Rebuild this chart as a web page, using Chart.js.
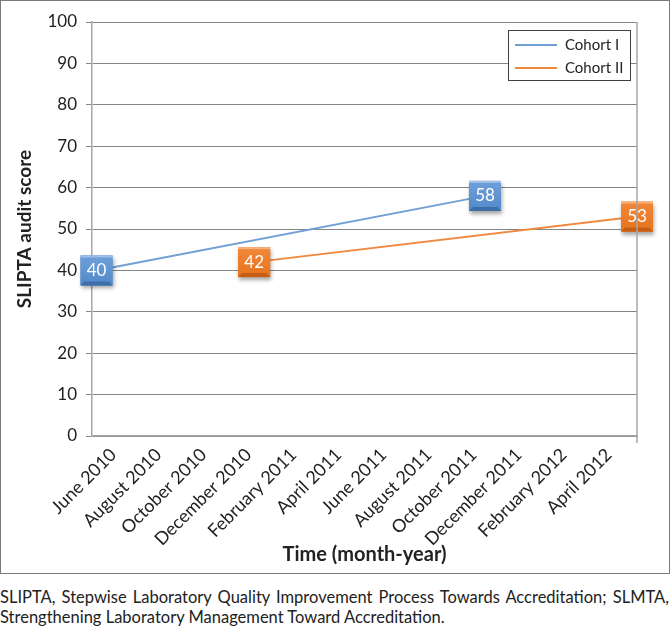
<!DOCTYPE html>
<html>
<head>
<meta charset="utf-8">
<title>SLIPTA audit score</title>
<script src="https://cdn.jsdelivr.net/npm/chart.js@4.4.0/dist/chart.umd.min.js"></script>
<style>
  body { margin: 0; background: #fff; font-family: Lato, sans-serif; }
  #frame { position: absolute; left: 0; top: 0; width: 668px; height: 572px; border: 1px solid #7a7a7a; }
  #caption { position: absolute; left: 0; top: 587px; width: 669px; font-size: 16.5px; line-height: 20px; color: #222;
             white-space: nowrap; }
  #caption .first { display: block; text-align: justify; text-align-last: justify; }
</style>
</head>
<body>
<div id="frame"><canvas id="chart" width="668" height="572"></canvas></div>
<div id="caption"><span class="first">SLIPTA, Stepwise Laboratory Quality Improvement Process Towards Accreditation; SLMTA,</span>Strengthening Laboratory Management Toward Accreditation.</div>
<script>
// months counted from June 2010 (= 0)
const tickMonths = [0, 2, 4, 6, 8, 10, 12, 14, 16, 18, 20, 22];
const tickLabels = ['June 2010', 'August 2010', 'October 2010', 'December 2010', 'February 2011', 'April 2011',
                    'June 2011', 'August 2011', 'October 2011', 'December 2011', 'February 2012', 'April 2012'];

const cohort1Months = [-0.75, 16.5];
const cohort1Scores = [40, 58];
const cohort2Months = [6.25, 23.25];
const cohort2Scores = [42, 53];

const seriesNames = ['Cohort I', 'Cohort II'];

const toPoints = (xs, ys) => xs.map((x, i) => ({x: x, y: ys[i]}));

// beveled value boxes like the excel data labels
const boxLabels = {
    id: 'boxLabels',
    afterDatasetsDraw(chart) {
        const ctx = chart.ctx;
        chart.data.datasets.forEach((ds, i) => {
            const meta = chart.getDatasetMeta(i);
            meta.data.forEach((pt, j) => {
                const w = 32, h = 30;
                const x = pt.x - w / 2, y = pt.y - h / 2;
                ctx.save();
                ctx.shadowColor = 'rgba(0,0,0,0.35)';
                ctx.shadowBlur = 4;
                ctx.shadowOffsetX = 1;
                ctx.shadowOffsetY = 3;
                ctx.fillStyle = ds.boxColor;
                ctx.fillRect(x, y, w, h);
                ctx.restore();

                ctx.save();
                const g = ctx.createLinearGradient(0, y, 0, y + h);
                g.addColorStop(0, ds.boxLight);
                g.addColorStop(1, ds.boxColor);
                ctx.fillStyle = g;
                ctx.fillRect(x, y, w, h);
                // bevel edges
                ctx.fillStyle = 'rgba(255,255,255,0.35)';
                ctx.fillRect(x, y, w, 2);
                ctx.fillStyle = ds.boxDark;
                ctx.beginPath();
                ctx.moveTo(x, y + h);
                ctx.lineTo(x + 4, y + h - 4);
                ctx.lineTo(x + w - 4, y + h - 4);
                ctx.lineTo(x + w, y + h);
                ctx.closePath();
                ctx.fill();

                ctx.fillStyle = '#fff';
                ctx.font = '17px Lato, sans-serif';
                ctx.textAlign = 'center';
                ctx.textBaseline = 'middle';
                ctx.fillText(String(ds.data[j].y), pt.x, pt.y);
                ctx.restore();
            });
        });
    }
};

// right edge of plot and the legend box
const frameAndLegend = {
    id: 'frameAndLegend',
    afterDraw(chart) {
        const ctx = chart.ctx;
        const a = chart.chartArea;
        ctx.save();
        ctx.strokeStyle = '#a6a6a6';
        ctx.lineWidth = 1.5;
        ctx.beginPath();
        ctx.moveTo(a.right, a.top);
        ctx.lineTo(a.right, a.bottom + 7);
        ctx.stroke();

        const lx = a.right - 129, ly = a.top + 8, lw = 122, lh = 50;
        ctx.fillStyle = '#fff';
        ctx.fillRect(lx, ly, lw, lh);
        ctx.strokeStyle = '#404040';
        ctx.lineWidth = 1;
        ctx.strokeRect(lx + 0.5, ly + 0.5, lw, lh);
        chart.data.datasets.forEach((ds, i) => {
            const yy = ly + 15 + i * 23;
            ctx.strokeStyle = ds.borderColor;
            ctx.lineWidth = 2;
            ctx.beginPath();
            ctx.moveTo(lx + 7, yy);
            ctx.lineTo(lx + 49, yy);
            ctx.stroke();
            ctx.fillStyle = '#222';
            ctx.font = '15px Lato, sans-serif';
            ctx.textAlign = 'left';
            ctx.textBaseline = 'middle';
            ctx.fillText(ds.label, lx + 57, yy);
        });
        ctx.restore();
    }
};

new Chart(document.getElementById('chart'), {
    type: 'line',
    data: {
        datasets: [{
            label: seriesNames[0],
            data: toPoints(cohort1Months, cohort1Scores),
            borderColor: '#71a0d4',
            borderWidth: 2,
            pointRadius: 0,
            boxColor: '#5189c9',
            boxLight: '#6fa0db',
            boxDark: '#3c6ea8'
        }, {
            label: seriesNames[1],
            data: toPoints(cohort2Months, cohort2Scores),
            borderColor: '#f0883e',
            borderWidth: 2,
            pointRadius: 0,
            boxColor: '#e6731f',
            boxLight: '#f2883a',
            boxDark: '#c55e14'
        }]
    },
    options: {
        responsive: false,
        animation: false,
        layout: {padding: {left: 0, right: 32, top: 21, bottom: 0}},
        plugins: {legend: {display: false}, tooltip: {enabled: false}},
        scales: {
            x: {
                type: 'linear',
                min: -0.95,
                max: 23.25,
                afterBuildTicks: (scale) => { scale.ticks = tickMonths.map(v => ({value: v})); },
                afterFit: (scale) => { scale.height = 137; },
                grid: {display: false},
                border: {display: true, color: '#a6a6a6', width: 1.5},
                ticks: {
                    minRotation: 45,
                    maxRotation: 45,
                    autoSkip: false,
                    padding: 0,
                    color: '#222',
                    font: {family: 'Lato', size: 18},
                    callback: (value) => tickLabels[tickMonths.indexOf(value)]
                },
                title: {
                    display: true,
                    text: 'Time (month-year)',
                    color: '#222',
                    font: {family: 'Lato', size: 20, weight: 'bold'},
                    padding: {top: 0, bottom: 6}
                }
            },
            y: {
                min: 0,
                max: 100,
                afterFit: (scale) => { scale.width = 91; },
                ticks: {stepSize: 10, padding: 9, color: '#222', font: {family: 'Lato', size: 17}},
                grid: {color: '#858585', lineWidth: 1, tickLength: 6},
                border: {display: true, color: '#a6a6a6', width: 1.5},
                title: {
                    display: true,
                    text: 'SLIPTA audit score',
                    color: '#222',
                    font: {family: 'Lato', size: 19, weight: 'bold'},
                    padding: {top: 12, bottom: 0}
                }
            }
        }
    },
    plugins: [boxLabels, frameAndLegend]
});
</script>
</body>
</html>
